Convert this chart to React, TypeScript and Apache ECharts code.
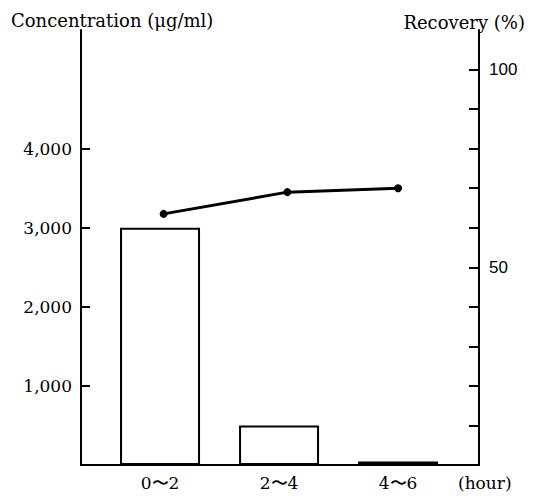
import React, { useEffect, useRef } from "react";
import * as echarts from "echarts";

const categories = ["0〜2", "2〜4", "4〜6"];
const categoryX = [1, 2, 3];
const concentration = [3000, 500, 45];
const recovery = [63.5, 69, 70];
const recoveryX = [1.03, 2.07, 3];
const leftTicks = [1000, 2000, 3000, 4000];
const rightTicks = [10, 20, 30, 40, 50, 60, 70, 80, 90, 100];
const rightLabels = [50, 100];

const SERIF = "'DejaVu Serif', serif";
const SANS = "'Liberation Sans', Arial, sans-serif";

export default function App() {
  const ref = useRef<HTMLDivElement>(null);
  useEffect(() => {
    if (!ref.current) return;
    const chart = echarts.init(ref.current, null, { renderer: "svg" });
    chart.setOption({
      animation: false,
      backgroundColor: "#fff",
      title: [
        {
          text: "Concentration (μg/ml)",
          left: 6,
          top: 6,
          textStyle: { fontFamily: SERIF, fontSize: 18, fontWeight: "normal", color: "#000" },
        },
        {
          text: "Recovery (%)",
          right: 8,
          top: 8,
          textStyle: { fontFamily: SERIF, fontSize: 18, fontWeight: "normal", color: "#000" },
        },
      ],
      grid: { left: 81, right: 59, top: 30, bottom: 31 },
      xAxis: {
        type: "value",
        min: 0.336,
        max: 3.68,
        splitLine: { show: false },
        axisLine: { show: true, lineStyle: { color: "#000", width: 2 } },
        axisTick: { show: false },
        axisLabel: {
          customValues: categoryX,
          formatter: (v: number) => categories[Math.round(v) - 1] ?? "",
          color: "#000",
          fontFamily: SERIF,
          fontSize: 17,
          margin: 9,
        },
        name: "(hour)",
        nameLocation: "end",
        nameGap: -21,
        nameTextStyle: {
          color: "#000",
          fontFamily: SERIF,
          fontSize: 17,
          verticalAlign: "top",
          padding: [9, 0, 0, 0],
        },
      },
      yAxis: [
        {
          type: "value",
          position: "left",
          min: 0,
          max: 5500,
          splitLine: { show: false },
          axisLine: { show: true, lineStyle: { color: "#000", width: 2 } },
          axisTick: {
            show: true,
            inside: true,
            length: 9,
            customValues: leftTicks,
            lineStyle: { color: "#000", width: 2 },
          },
          axisLabel: {
            customValues: leftTicks,
            formatter: (v: number) => `${v / 1000},000`,
            color: "#000",
            fontFamily: SERIF,
            fontSize: 17,
            margin: 9,
          },
        },
        {
          type: "value",
          position: "right",
          min: 0,
          max: 110,
          splitLine: { show: false },
          axisLine: { show: true, lineStyle: { color: "#000", width: 2 } },
          axisTick: {
            show: true,
            inside: true,
            length: 10,
            customValues: rightTicks,
            lineStyle: { color: "#000", width: 2 },
          },
          axisLabel: {
            customValues: rightLabels,
            color: "#000",
            fontFamily: SANS,
            fontSize: 17,
            margin: 10,
          },
        },
      ],
      series: [
        {
          type: "bar",
          yAxisIndex: 0,
          barWidth: 80,
          data: categoryX.map((x, i) => [x, concentration[i]]),
          itemStyle: { color: "#fff", borderColor: "#000", borderWidth: 2 },
        },
        {
          type: "line",
          yAxisIndex: 1,
          data: recoveryX.map((x, i) => [x, recovery[i]]),
          symbol: "circle",
          symbolSize: 8,
          lineStyle: { color: "#000", width: 3 },
          itemStyle: { color: "#000" },
        },
      ],
    });
    return () => chart.dispose();
  }, []);
  return <div ref={ref} style={{ width: 538, height: 496, position: "absolute", left: 0, top: 0 }} />;
}
